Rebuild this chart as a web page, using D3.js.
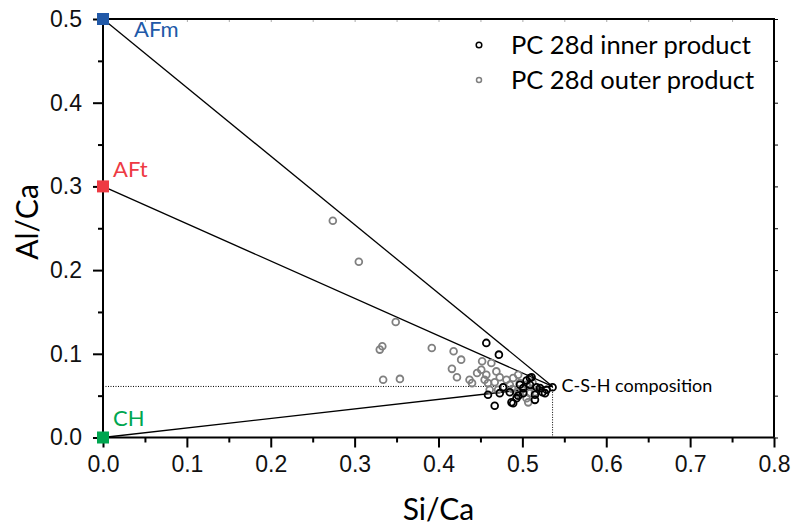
<!DOCTYPE html>
<meta charset="utf-8">
<style>
body { margin: 0; background: #fff; }
svg { font-family: Lato, "Open Sans", sans-serif; }
.tick text { font-size: 23px; fill: #111; }
</style>
<svg width="791" height="527"></svg>
<script src="https://d3js.org/d3.v7.min.js"></script>
<script>

// Si/Ca, Al/Ca
var outerPoints = [
  [0.274,0.259],[0.305,0.210],[0.349,0.138],[0.330,0.105],[0.333,0.109],[0.392,0.107],
  [0.334,0.069],[0.354,0.070],[0.418,0.103],[0.427,0.093],[0.416,0.082],[0.422,0.072],
  [0.437,0.069],[0.440,0.065],[0.452,0.091],[0.451,0.081],[0.463,0.089],[0.457,0.075],
  [0.469,0.079],[0.473,0.072],[0.459,0.065],[0.467,0.066],[0.481,0.069],[0.489,0.071],
  [0.495,0.075],[0.485,0.063],[0.497,0.065],[0.505,0.063],[0.461,0.057],[0.471,0.057],
  [0.493,0.054],[0.509,0.053],[0.505,0.047],[0.507,0.042],[0.515,0.054],[0.497,0.051],
  [0.478,0.060],[0.488,0.058],[0.500,0.058],[0.455,0.069],[0.446,0.077],[0.512,0.066]
];
var innerPoints = [
  [0.457,0.113],[0.472,0.099],[0.509,0.071],[0.536,0.060],[0.529,0.057],[0.524,0.054],
  [0.517,0.060],[0.459,0.051],[0.473,0.053],[0.485,0.054],[0.487,0.042],[0.493,0.047],
  [0.467,0.038],[0.501,0.059],[0.515,0.045],[0.511,0.072],[0.509,0.063],[0.489,0.041],
  [0.501,0.053],[0.527,0.053],[0.521,0.059],[0.515,0.051],[0.497,0.063],[0.477,0.060],
  [0.495,0.050],[0.505,0.068]
];
var phases = ["AFm", "AFt", "CH"];
var phaseAlCa = [0.5, 0.3, 0.0];
var phaseColors = ["#2159a8", "#ee3a43", "#00a650"];
var csh = [0.536, 0.061];
var xTicks = [0, 0.1, 0.2, 0.3, 0.4, 0.5, 0.6, 0.7, 0.8];
var yTicks = [0, 0.1, 0.2, 0.3, 0.4, 0.5];
var legendLabels = ["PC 28d inner product", "PC 28d outer product"];

var svg = d3.select("svg");

var x = d3.scaleLinear().domain([0, 0.8]).range([103, 774]);
var y = d3.scaleLinear().domain([0, 0.5]).range([437.5, 19]);

var minorX = d3.range(0.05, 0.8, 0.1);
var minorY = d3.range(0.05, 0.5, 0.1);

// faint ticks on top, short ticks on the right
svg.append("g")
    .attr("transform", "translate(0," + y(0.5) + ")")
    .call(d3.axisBottom(x).tickValues(d3.range(0, 0.81, 0.05)).tickSize(3).tickFormat(""))
    .call(function(g) { g.select(".domain").remove(); g.selectAll("line").attr("stroke", "#aaa"); });

svg.append("g")
    .attr("transform", "translate(" + x(0.8) + ",0)")
    .call(d3.axisRight(y).tickValues(d3.range(0, 0.51, 0.05)).tickSize(4).tickFormat(""))
    .call(function(g) { g.select(".domain").remove(); });

// frame top/right
svg.append("path")
    .attr("d", "M" + x(0) + "," + y(0.5) + "H" + x(0.8) + "V" + y(0))
    .attr("fill", "none").attr("stroke", "#000").attr("stroke-width", 2);

// bottom axis
var gx = svg.append("g").attr("transform", "translate(0," + y(0) + ")");
gx.call(d3.axisBottom(x).tickValues(xTicks).tickSize(10).tickPadding(8).tickFormat(d3.format(".1f")));
gx.append("g").call(d3.axisBottom(x).tickValues(minorX).tickSize(5).tickFormat(""))
    .select(".domain").remove();
gx.selectAll("line, path").attr("stroke-width", 2);
gx.selectAll(".domain").attr("d", "M" + x(0) + ",0H" + x(0.8));

// left axis
var gy = svg.append("g").attr("transform", "translate(" + x(0) + ",0)");
gy.call(d3.axisLeft(y).tickValues(yTicks).tickSize(10).tickPadding(11).tickFormat(d3.format(".1f")));
gy.append("g").call(d3.axisLeft(y).tickValues(minorY).tickSize(5).tickFormat(""))
    .select(".domain").remove();
gy.selectAll("line, path").attr("stroke-width", 2);
gy.selectAll(".domain").attr("d", "M0," + y(0) + "V" + y(0.5));

// dotted guides to C-S-H composition
svg.append("path")
    .attr("d", "M" + x(0) + "," + y(csh[1]) + "H" + x(csh[0]) + "V" + y(0))
    .attr("fill", "none").attr("stroke", "#000").attr("stroke-width", 1)
    .attr("stroke-dasharray", "1,1.5");

// tie lines
svg.append("g").selectAll("line")
  .data(phaseAlCa)
  .enter().append("line")
    .attr("x1", x(0)).attr("y1", function(d) { return y(d); })
    .attr("x2", x(csh[0])).attr("y2", y(csh[1]))
    .attr("stroke", "#000").attr("stroke-width", 1.3);

// points
svg.append("g").selectAll("circle")
  .data(outerPoints)
  .enter().append("circle")
    .attr("cx", function(d) { return x(d[0]); })
    .attr("cy", function(d) { return y(d[1]); })
    .attr("r", 3.4)
    .attr("fill", "none").attr("stroke", "#808080").attr("stroke-width", 1.8);

svg.append("g").selectAll("circle")
  .data(innerPoints)
  .enter().append("circle")
    .attr("cx", function(d) { return x(d[0]); })
    .attr("cy", function(d) { return y(d[1]); })
    .attr("r", 3.4)
    .attr("fill", "none").attr("stroke", "#000").attr("stroke-width", 1.8);

// end members
svg.append("g").selectAll("rect")
  .data(phaseAlCa)
  .enter().append("rect")
    .attr("x", x(0) - 6).attr("y", function(d) { return y(d) - 6; })
    .attr("width", 12).attr("height", 12)
    .attr("fill", function(d, i) { return phaseColors[i]; });

var labelPos = [[134, 37], [113, 177], [113, 426]];
svg.append("g").selectAll("text")
  .data(phases)
  .enter().append("text")
    .attr("x", function(d, i) { return labelPos[i][0]; })
    .attr("y", function(d, i) { return labelPos[i][1]; })
    .attr("font-size", 22)
    .attr("fill", function(d, i) { return phaseColors[i]; })
    .text(function(d) { return d; });

svg.append("text")
    .attr("x", x(csh[0]) + 9).attr("y", y(csh[1]) + 6)
    .attr("font-size", 18)
    .text("C-S-H composition");

// legend
var lg = svg.append("g").selectAll("g")
  .data(legendLabels)
  .enter().append("g")
    .attr("transform", function(d, i) { return "translate(479," + (45 + i * 35) + ")"; });
lg.append("circle").attr("r", function(d, i) { return i ? 2.5 : 2.8; })
    .attr("fill", "none")
    .attr("stroke", function(d, i) { return i ? "#808080" : "#000"; })
    .attr("stroke-width", 1.5);
lg.append("text").attr("x", 32).attr("y", 9).attr("font-size", 25.5).text(function(d) { return d; });

// axis titles
svg.append("text")
    .attr("x", (x(0) + x(0.8)) / 2).attr("y", 520)
    .attr("text-anchor", "middle").attr("font-size", 30)
    .text("Si/Ca");

svg.append("text")
    .attr("transform", "translate(38," + 222 + ") rotate(-90)")
    .attr("text-anchor", "middle").attr("font-size", 30)
    .text("Al/Ca");

</script>
